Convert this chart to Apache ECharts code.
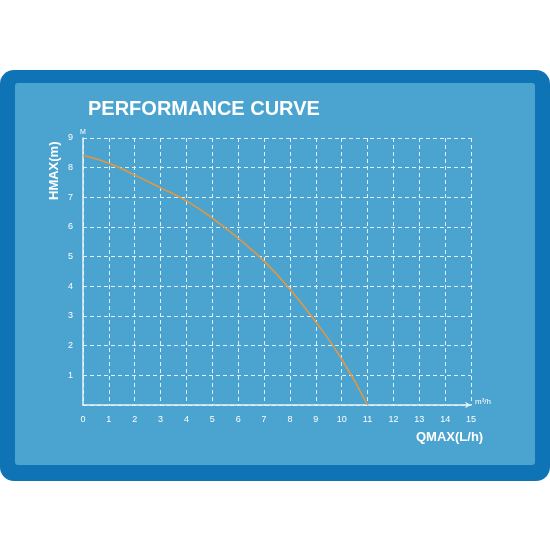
<!DOCTYPE html>
<html><head><meta charset="utf-8">
<script src="https://cdn.jsdelivr.net/npm/echarts@6/dist/echarts.min.js"></script>
<style>html,body{margin:0;padding:0;background:#fff}#c{width:550px;height:550px}</style>
</head><body><div id="c"></div>
<script>
const flowValues = [0, 1, 2, 3, 4, 5, 6, 7, 8, 9, 10, 11];
const headValues = [8.42, 8.15, 7.75, 7.32, 6.88, 6.3, 5.62, 4.85, 3.9, 2.8, 1.55, 0];
const xTickLabels = [0,1,2,3,4,5,6,7,8,9,10,11,12,13,14,15];
const yTickLabels = [1,2,3,4,5,6,7,8,9];

const chart = echarts.init(document.getElementById('c'));
const lbl = {color:'#fff', fontSize:9, fontFamily:'Liberation Sans Narrow, Liberation Sans, sans-serif'};
chart.setOption({
  animation:false,
  graphic:[
    {type:'rect', z:-10, shape:{x:0,y:70,width:550,height:411,r:14}, style:{fill:'#0f74b5'}},
    {type:'rect', z:-9, shape:{x:15,y:83,width:520,height:382,r:3}, style:{fill:'#4ba3cf'}},
    {type:'text', left:88, top:99, style:{text:'PERFORMANCE CURVE', fill:'#fff', font:'bold 20px Liberation Sans, Arial, sans-serif', letterSpacing:1}},
    {type:'text', x:48, y:200, rotation:Math.PI/2, style:{text:'HMAX(m)', fill:'#fff', font:'bold 13px Liberation Sans, Arial, sans-serif', align:'left', verticalAlign:'top'}, originX:0, originY:0},
    {type:'text', left:416, top:431, style:{text:'QMAX(L/h)', fill:'#fff', font:'bold 13px Liberation Sans, Arial, sans-serif'}},
    {type:'text', left:80, top:129, style:{text:'M', fill:'#fff', font:'7px Liberation Sans, sans-serif'}},
    {type:'text', left:475, top:398, style:{text:'m³/h', fill:'#fff', font:'8px Liberation Sans, sans-serif'}}
  ],
  grid:{left:83, top:138, width:388, height:267},
  xAxis:{type:'value', min:0, max:15, interval:1,
     axisLine:{lineStyle:{color:'#e6f3fa', width:1.5}, symbol:['none','arrow'], symbolSize:[5,6]},
     axisTick:{show:false},
     axisLabel:Object.assign({margin:10, formatter:v=>xTickLabels.includes(v)?String(v):''}, lbl),
     splitLine:{lineStyle:{color:'#dff0fa', type:[4,3], width:1}}},
  yAxis:{type:'value', min:0, max:9, interval:1,
    axisLine:{show:true, lineStyle:{color:'#e6f3fa', width:1.5}}, axisTick:{show:false},
    axisLabel:Object.assign({margin:10, formatter:v=>yTickLabels.includes(v)?String(v):''}, lbl),
    splitLine:{lineStyle:{color:'#dff0fa', type:[4,3], width:1}}},
  series:[{type:'line', data:flowValues.map((x,i)=>[x,headValues[i]]), smooth:true, symbol:'none',
    lineStyle:{color:'#e8963c', width:1.5}}]
});
</script></body></html>
